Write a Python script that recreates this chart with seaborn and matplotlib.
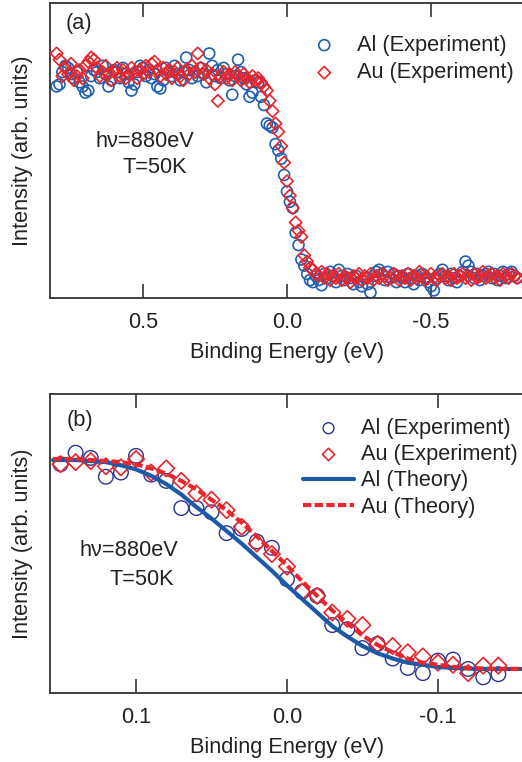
import matplotlib
matplotlib.use("Agg")
import matplotlib.pyplot as plt
import seaborn as sns
import numpy as np

# ---- panel (a): wide energy range ----
energy_a = [
    0.80, 0.79, 0.78, 0.77, 0.76, 0.75, 0.74, 0.73, 0.72, 0.71,
    0.70, 0.69, 0.68, 0.67, 0.66, 0.65, 0.64, 0.63, 0.62, 0.61,
    0.60, 0.59, 0.58, 0.57, 0.56, 0.55, 0.54, 0.53, 0.52, 0.51,
    0.50, 0.49, 0.48, 0.47, 0.46, 0.45, 0.44, 0.43, 0.42, 0.41,
    0.40, 0.39, 0.38, 0.37, 0.36, 0.35, 0.34, 0.33, 0.32, 0.31,
    0.30, 0.29, 0.28, 0.27, 0.26, 0.25, 0.24, 0.23, 0.22, 0.21,
    0.20, 0.19, 0.18, 0.17, 0.16, 0.15, 0.14, 0.13, 0.12, 0.11,
    0.10, 0.09, 0.08, 0.07, 0.06, 0.05, 0.04, 0.03, 0.02, 0.01,
    0.00, -0.01, -0.02, -0.03, -0.04, -0.05, -0.06, -0.07, -0.08, -0.09,
    -0.10, -0.11, -0.12, -0.13, -0.14, -0.15, -0.16, -0.17, -0.18, -0.19,
    -0.20, -0.21, -0.22, -0.23, -0.24, -0.25, -0.26, -0.27, -0.28, -0.29,
    -0.30, -0.31, -0.32, -0.33, -0.34, -0.35, -0.36, -0.37, -0.38, -0.39,
    -0.40, -0.41, -0.42, -0.43, -0.44, -0.45, -0.46, -0.47, -0.48, -0.49,
    -0.50, -0.51, -0.52, -0.53, -0.54, -0.55, -0.56, -0.57, -0.58, -0.59,
    -0.60, -0.61, -0.62, -0.63, -0.64, -0.65, -0.66, -0.67, -0.68, -0.69,
    -0.70, -0.71, -0.72, -0.73, -0.74, -0.75, -0.76, -0.77, -0.78, -0.79,
    -0.80,
]
al_exp_a = [
    0.93, 0.94, 1.00, 1.03, 1.02, 0.99, 0.97, 1.00, 0.95, 0.93,
    0.90, 0.91, 0.98, 1.01, 1.00, 0.97, 1.03, 0.99, 0.93, 0.96,
    1.01, 1.00, 0.97, 1.02, 0.99, 0.95, 0.91, 0.94, 1.00, 1.03,
    1.02, 0.98, 1.01, 0.97, 0.99, 0.93, 0.92, 0.96, 1.02, 1.00,
    0.98, 1.03, 0.99, 0.96, 1.00, 1.07, 1.01, 0.97, 1.00, 0.98,
    1.02, 0.99, 0.95, 1.09, 1.03, 0.98, 1.01, 0.97, 1.02, 0.99,
    0.96, 0.89, 0.98, 1.06, 1.00, 0.97, 0.94, 0.88, 0.90, 0.96,
    0.95, 0.88, 0.84, 0.75, 0.74, 0.73, 0.65, 0.62, 0.58, 0.50,
    0.42, 0.37, 0.34, 0.22, 0.16, 0.09, 0.06, 0.02, -0.01, -0.02,
    0.01, -0.01, -0.035, 0.02, 0.00, 0.03, 0.01, -0.02, 0.04, 0.01,
    -0.01, 0.02, 0.00, -0.03, 0.01, -0.02, -0.04, 0.00, -0.03, -0.07,
    0.01, 0.03, 0.04, 0.02, -0.01, 0.03, 0.00, 0.02, -0.02, 0.01,
    0.00, -0.02, 0.02, 0.00, -0.03, 0.01, -0.01, 0.02, 0.00, -0.02,
    -0.04, -0.06, 0.00, 0.02, 0.04, 0.01, -0.01, 0.02, 0.00, -0.02,
    0.01, 0.03, 0.08, 0.06, 0.03, 0.00, 0.02, -0.01, 0.01, 0.02,
    0.03, 0.00, 0.02, -0.01, 0.01, 0.03, 0.00, 0.02, 0.03, 0.01,
    0.00,
]
au_exp_a = [
    1.09, 1.06, 0.98, 1.02, 0.99, 1.04, 0.96, 0.98, 1.01, 0.97,
    1.03, 1.05, 1.07, 1.06, 1.02, 0.98, 1.00, 1.03, 0.99, 0.96,
    1.00, 1.02, 0.98, 1.01, 0.97, 0.99, 1.02, 1.00, 0.97, 1.01,
    0.99, 1.03, 1.00, 1.04, 1.05, 1.01, 0.98, 1.02, 0.99, 1.01,
    0.97, 1.00, 1.02, 0.98, 0.96, 1.01, 0.99, 1.03, 1.00, 1.09,
    1.02, 0.99, 1.01, 0.97, 0.99, 0.94, 0.86, 0.98, 1.00, 0.97,
    0.99, 0.96, 1.00, 0.98, 0.96, 0.99, 0.97, 0.95, 0.98, 0.96,
    0.97, 0.95, 0.93, 0.91, 0.86, 0.81, 0.75, 0.71, 0.64, 0.56,
    0.47, 0.40, 0.34, 0.27, 0.23, 0.20, 0.11, 0.08, 0.05, 0.04,
    0.02, 0.01, 0.03, 0.00, 0.02, -0.01, 0.01, 0.00, 0.02, -0.01,
    0.01, 0.00, -0.02, 0.01, 0.00, 0.02, -0.01, 0.01, 0.00, 0.02,
    -0.01, 0.01, 0.00, 0.02, 0.01, -0.01, 0.00, 0.02, 0.01, -0.01,
    0.01, 0.00, 0.02, -0.01, 0.01, 0.00, 0.03, 0.01, -0.01, 0.00,
    0.02, 0.00, -0.01, 0.01, 0.02, 0.00, 0.01, -0.01, 0.02, 0.00,
    0.01, 0.02, 0.00, 0.01, -0.01, 0.02, 0.00, 0.01, 0.03, 0.00,
    0.01, 0.02, 0.00, 0.01, -0.01, 0.02, 0.01, 0.00, 0.02, 0.01,
    0.00,
]

# ---- panel (b): zoom around the Fermi level ----
energy_b = [
    0.15, 0.14, 0.13, 0.12, 0.11, 0.10, 0.09, 0.08, 0.07, 0.06,
    0.05, 0.04, 0.03, 0.02, 0.01, 0.00, -0.01, -0.02, -0.03, -0.04,
    -0.05, -0.06, -0.07, -0.08, -0.09, -0.10, -0.11, -0.12, -0.13, -0.14,
]
al_exp_b = [
    0.98, 1.035, 1.01, 0.92, 0.94, 1.02, 0.93, 0.90, 0.77, 0.77,
    0.75, 0.65, 0.67, 0.61, 0.58, 0.43, 0.37, 0.35, 0.21, 0.19,
    0.10, 0.12, 0.05, 0.005, -0.02, 0.04, 0.045, 0.00, -0.04, -0.025,
]
au_exp_b = [
    0.98, 0.99, 0.995, 0.97, 0.965, 1.005, 0.94, 0.96, 0.90, 0.84,
    0.81, 0.76, 0.68, 0.60, 0.55, 0.49, 0.37, 0.35, 0.27, 0.24,
    0.21, 0.12, 0.11, 0.08, 0.06, 0.03, 0.02, -0.02, 0.016, 0.016,
]

energy_theory = [
    0.155, 0.15, 0.14, 0.13, 0.12, 0.11, 0.10, 0.09, 0.08, 0.07, 0.06,
    0.05, 0.04, 0.03, 0.02, 0.01, 0.00, -0.01, -0.02, -0.03, -0.04,
    -0.05, -0.06, -0.07, -0.08, -0.09, -0.10, -0.11, -0.12, -0.13, -0.14,
    -0.15, -0.155,
]
al_theory = [
    1.00, 1.00, 1.00, 0.995, 0.99, 0.975, 0.955, 0.925, 0.885, 0.835, 0.775,
    0.72, 0.66, 0.60, 0.535, 0.47, 0.40, 0.335, 0.27, 0.205, 0.155,
    0.11, 0.075, 0.05, 0.03, 0.02, 0.01, 0.005, 0.002, 0.0, 0.0,
    0.0, 0.0,
]
au_theory = [
    1.005, 1.005, 1.005, 1.00, 0.995, 0.99, 0.98, 0.96, 0.935, 0.90, 0.86,
    0.81, 0.76, 0.70, 0.635, 0.565, 0.495, 0.42, 0.35, 0.28, 0.22,
    0.16, 0.115, 0.08, 0.05, 0.03, 0.02, 0.01, 0.005, 0.002, 0.0,
    0.0, 0.0,
]

xticks_a = [0.5, 0.0, -0.5]
xticks_b = [0.1, 0.0, -0.1]

BLUE_A = "#1f5fb0"
NAVY = "#2b3293"
BLUE_LINE = "#1c5aa8"
RED = "#e8262b"
FONT = 15.7

sns.set_theme(style="white")
plt.rcParams["font.family"] = ["Liberation Sans", "DejaVu Sans"]
plt.rcParams["text.color"] = "#222222"
plt.rcParams["axes.labelcolor"] = "#222222"

fig = plt.figure(figsize=(5.22, 7.62), dpi=100)
W, H = 522, 762
ax_a = fig.add_axes([50 / W, (H - 298) / H, (524 - 50) / W, 295 / H])
ax_b = fig.add_axes([50 / W, (H - 693) / H, (524 - 50) / W, 299 / H])


def style_axes(ax, xlim, ylim, ticks):
    ax.set_xlim(*xlim)
    ax.set_ylim(*ylim)
    ax.set_xticks(ticks)
    ax.set_xticklabels([f"{t:.1f}" for t in ticks])
    ax.set_yticks([])
    ax.tick_params(axis="x", direction="in", length=10, width=1.2,
                   top=True, bottom=True, labelsize=FONT, pad=10,
                   colors="#333333", labelcolor="#222222")
    for side in ["left", "bottom", "top"]:
        ax.spines[side].set_color("#333333")
        ax.spines[side].set_linewidth(1.3)
    ax.spines["right"].set_visible(False)
    ax.set_xlabel("Binding Energy (eV)", fontsize=FONT, labelpad=6.5)
    ax.set_ylabel("Intensity (arb. units)", fontsize=FONT, labelpad=12)


# panel (a)
sns.scatterplot(x=energy_a, y=al_exp_a, ax=ax_a, marker="o", s=62,
                facecolor="none", edgecolor=BLUE_A, linewidth=1.2,
                label="Al (Experiment)", zorder=2)
sns.scatterplot(x=energy_a, y=au_exp_a, ax=ax_a, marker="D", s=40,
                facecolor="none", edgecolor=RED, linewidth=1.2,
                label="Au (Experiment)", zorder=3)
style_axes(ax_a, (0.823, -0.823), (-0.097, 1.335), xticks_a)
ax_a.legend(loc="upper left", bbox_to_anchor=(0.525, 0.892), frameon=False,
            fontsize=FONT, handlelength=2.33, handletextpad=0.33,
            labelspacing=0.3, borderaxespad=0, borderpad=0)
ax_a.text(0.032, 0.929, "(a)", transform=ax_a.transAxes, fontsize=FONT,
          ha="left", va="center")
ax_a.text(0.201, 0.529, "h\u03bd=880eV", transform=ax_a.transAxes,
          fontsize=FONT, ha="center", va="center")
ax_a.text(0.222, 0.444, "T=50K", transform=ax_a.transAxes,
          fontsize=FONT, ha="center", va="center")

# panel (b)
sns.scatterplot(x=energy_b, y=al_exp_b, ax=ax_b, marker="o", s=110,
                facecolor="none", edgecolor=NAVY, linewidth=1.0,
                label="Al (Experiment)", zorder=2)
sns.scatterplot(x=energy_b, y=au_exp_b, ax=ax_b, marker="D", s=70,
                facecolor="none", edgecolor=RED, linewidth=1.2,
                label="Au (Experiment)", zorder=3)
sns.lineplot(x=energy_theory, y=al_theory, ax=ax_b, color=BLUE_LINE,
             linewidth=3.0, sort=False, errorbar=None,
             label="Al (Theory)", zorder=4)
sns.lineplot(x=energy_theory, y=au_theory, ax=ax_b, color=RED,
             linewidth=3.0, sort=False, errorbar=None,
             label="Au (Theory)", zorder=5)
ax_b.lines[-1].set_dashes((2.0, 0.8))
style_axes(ax_b, (0.157, -0.157), (-0.115, 1.316), xticks_b)
leg = ax_b.legend(loc="upper left", bbox_to_anchor=(0.534, 0.92),
                  frameon=False, fontsize=FONT, handlelength=2.33,
                  handletextpad=0.33, labelspacing=0.24, borderaxespad=0,
                  borderpad=0, markerscale=0.75)
ax_b.text(0.036, 0.913, "(b)", transform=ax_b.transAxes, fontsize=FONT,
          ha="left", va="center")
ax_b.text(0.167, 0.478, "h\u03bd=880eV", transform=ax_b.transAxes,
          fontsize=FONT, ha="center", va="center")
ax_b.text(0.193, 0.378, "T=50K", transform=ax_b.transAxes,
          fontsize=FONT, ha="center", va="center")

fig.savefig("out.png", dpi=100)
